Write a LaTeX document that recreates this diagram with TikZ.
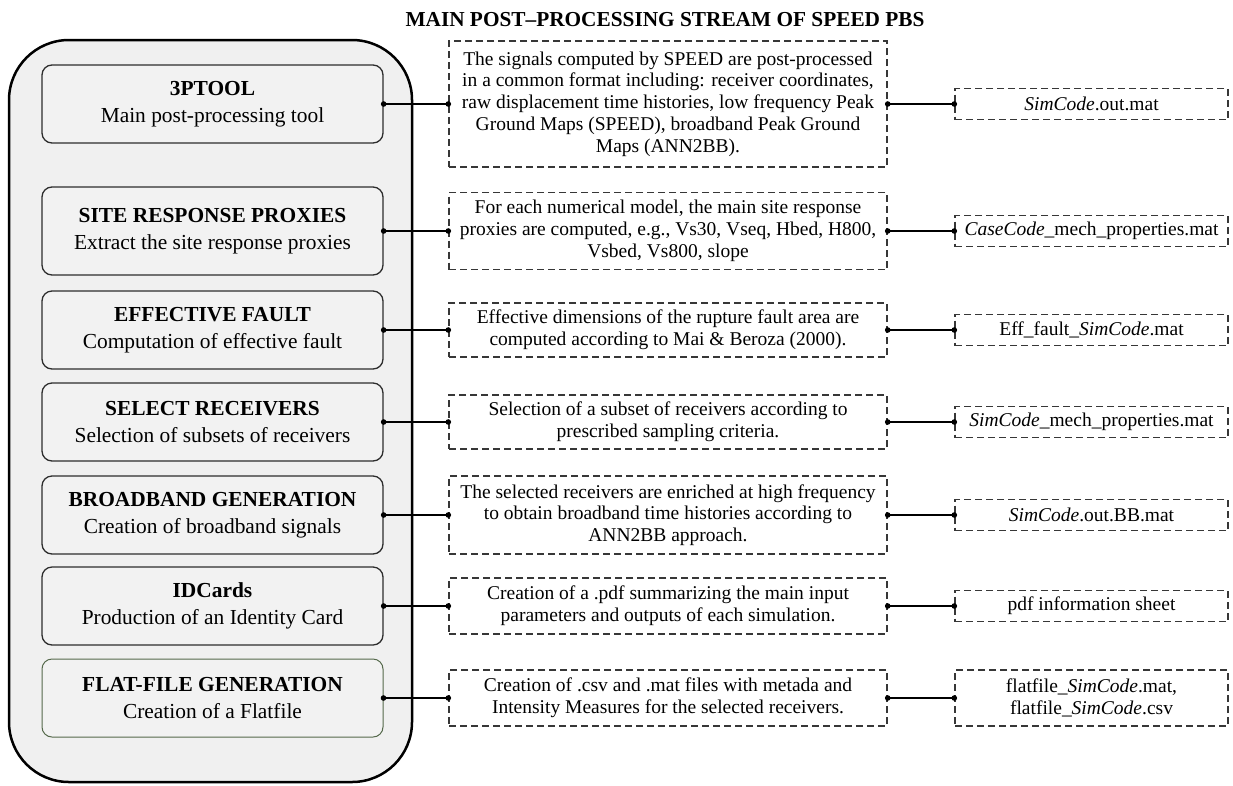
\documentclass[tikz,border=0pt]{standalone}
\usepackage{fontspec}
\setmainfont{Liberation Serif}
\usetikzlibrary{arrows.meta}
\definecolor{panelbg}{RGB}{240,240,240}
\definecolor{boxbg}{RGB}{242,242,242}
\definecolor{edgegray}{RGB}{45,45,45}
\definecolor{dashgray}{RGB}{55,55,55}
\definecolor{flatgreen}{RGB}{85,105,75}
\tikzset{
  panel/.style={draw=black, line width=2.5pt, fill=panelbg, rounded corners=60pt,
    minimum width=403pt, minimum height=742pt, inner sep=0pt},
  toolbox/.style={draw=edgegray, line width=1.3pt, fill=boxbg, rounded corners=10pt,
    minimum width=341pt, minimum height=78pt, inner sep=0pt, align=center,
    font=\fontsize{21.4}{26.5}\selectfont},
  descbox/.style={draw=dashgray, line width=1.4pt, dash pattern=on 7pt off 4pt,
    minimum width=438pt, inner sep=0pt, align=center,
    font=\fontsize{19.5}{21.7}\selectfont},
  filebox/.style={draw=dashgray, line width=1.4pt, dash pattern=on 7pt off 4pt,
    minimum width=273pt, minimum height=31pt, inner sep=0pt, align=center,
    font=\fontsize{19.5}{21.7}\selectfont},
  conn/.style={draw=black, line width=1.4pt,
    {Circle[length=5.5pt]}-{Circle[length=5.5pt]},
    shorten <=-2.75pt, shorten >=-2.75pt},
  titletext/.style={font=\fontsize{21.3}{24}\selectfont\bfseries}
}
\begin{document}
\begin{tikzpicture}[x=1pt,y=-1pt]
\useasboundingbox[fill=white] (0,0) rectangle (1233,785);

\node[titletext] (title) at (665,20) {MAIN POST–PROCESSING STREAM OF SPEED PBS};

\node[panel] (panel) at (210.5,411) {};

% left tool boxes
\node[toolbox] (l1) at (212.5,104) {\textbf{3PTOOL}\\Main post-processing tool};
\node[toolbox, minimum height=88pt] (l2) at (212.5,231) {\textbf{SITE RESPONSE PROXIES}\\Extract the site response proxies};
\node[toolbox] (l3) at (212.5,330) {\textbf{EFFECTIVE FAULT}\\Computation of effective fault};
\node[toolbox] (l4) at (212.5,422) {\textbf{SELECT RECEIVERS}\\Selection of subsets of receivers};
\node[toolbox] (l5) at (212.5,515) {\textbf{BROADBAND GENERATION}\\Creation of broadband signals};
\node[toolbox] (l6) at (212.5,606) {\textbf{IDCards}\\Production of an Identity Card};
\node[toolbox, draw=flatgreen, line width=1pt] (l7) at (212.5,698) {\textbf{FLAT-FILE GENERATION}\\Creation of a Flatfile};

% middle description boxes
\node[descbox, minimum height=126pt] (m1) at (668,104) {The signals computed by SPEED are post-processed\\in a common format including: receiver coordinates,\\raw displacement time histories, low frequency Peak\\Ground Maps (SPEED), broadband Peak Ground\\Maps (ANN2BB).};
\node[descbox, minimum height=77pt] (m2) at (668,231) {For each numerical model, the main site response\\proxies are computed, e.g., Vs30, Vseq, Hbed, H800,\\Vsbed, Vs800, slope};
\node[descbox, minimum height=54pt] (m3) at (668,330) {Effective dimensions of the rupture fault area are\\computed according to Mai \& Beroza (2000).};
\node[descbox, minimum height=54pt] (m4) at (668,422) {Selection of a subset of receivers according to\\prescribed sampling criteria.};
\node[descbox, minimum height=78pt] (m5) at (668,515) {The selected receivers are enriched at high frequency\\to obtain broadband time histories according to\\ANN2BB approach.};
\node[descbox, minimum height=56pt] (m6) at (668,606) {Creation of a .pdf summarizing the main input\\parameters and outputs of each simulation.};
\node[descbox, minimum height=56pt] (m7) at (668,698) {Creation of .csv and .mat files with metada and\\Intensity Measures for the selected receivers.};

% right file boxes
\node[filebox] (r1) at (1091.5,104) {\textit{SimCode}.out.mat};
\node[filebox] (r2) at (1091.5,231) {\textit{CaseCode}\_mech\_properties.mat};
\node[filebox] (r3) at (1091.5,330) {Eff\_fault\_\textit{SimCode}.mat};
\node[filebox] (r4) at (1091.5,422) {\textit{SimCode}\_mech\_properties.mat};
\node[filebox] (r5) at (1091.5,515) {\textit{SimCode}.out.BB.mat};
\node[filebox] (r6) at (1091.5,606) {pdf information sheet};
\node[filebox, minimum height=56pt] (r7) at (1091.5,698) {flatfile\_\textit{SimCode}.mat,\\flatfile\_\textit{SimCode}.csv};

% connectors
\foreach \i in {1,...,7}{
  \draw[conn] (l\i.east) -- (m\i.west);
  \draw[conn] (m\i.east) -- (r\i.west);
}
\end{tikzpicture}
\end{document}
